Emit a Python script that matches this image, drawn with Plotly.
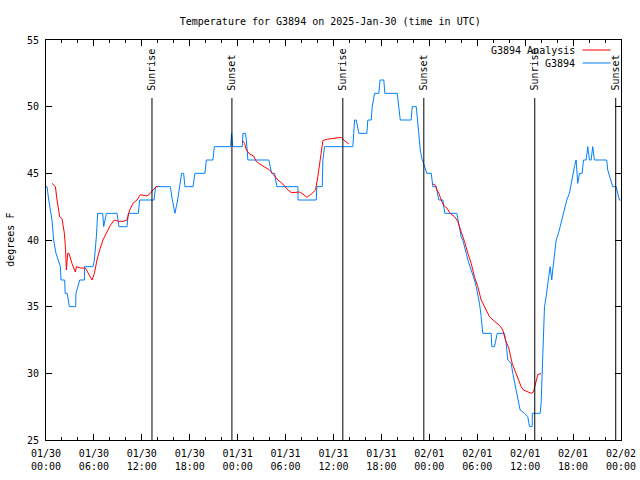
import pandas as pd
import plotly.graph_objects as go

BASE = pd.Timestamp("2025-01-30 00:00")

# Observations G3894 (hours since 01/30 00:00 UTC, deg F)
obs_hours = [0.00, 0.13, 0.34, 0.59, 0.75, 0.96, 1.25, 1.53, 1.80, 1.88, 2.34, 2.40, 2.65, 2.93, 3.72, 3.75,
             4.01, 4.22, 4.81, 4.82, 5.88, 6.06, 6.31, 6.47, 7.10, 7.22, 7.56, 8.89, 9.14, 10.14, 10.31, 11.56,
             11.73, 13.52, 13.73, 15.57, 15.82, 16.15, 16.48, 16.73, 16.98, 17.23, 17.40, 18.40, 18.65, 19.90,
             20.08, 20.90, 21.08, 23.12, 23.24, 23.37, 24.58, 24.66, 24.99, 25.16, 25.28, 27.91, 28.25, 28.62,
             28.91, 31.54, 31.56, 33.84, 33.92, 34.59, 34.67, 34.88, 38.42, 38.64, 38.85, 39.17, 40.18, 40.30,
             40.73, 40.85, 41.14, 41.68, 41.83, 42.30, 42.43, 43.98, 44.14, 44.36, 45.73, 45.86, 46.36, 46.48,
             46.68, 46.86, 47.06, 47.31, 47.61, 47.68, 48.24, 48.44, 48.86, 49.19, 49.69, 49.94, 51.44, 51.61,
             51.78, 51.99, 52.19, 52.44, 52.62, 52.82, 53.12, 53.44, 53.65, 53.87, 54.07, 54.28, 54.49, 54.69,
             55.74, 55.82, 56.16, 56.50, 57.41, 57.62, 57.82, 58.25, 58.45, 58.79, 59.07, 59.37, 59.91, 60.33,
             60.54, 60.88, 60.89, 61.88, 62.00, 62.20, 62.33, 62.42, 62.63, 62.83, 62.95, 63.13, 63.33, 63.45,
             63.67, 63.88, 64.17, 64.38, 64.58, 64.79, 65.01, 65.21, 65.54, 65.76, 65.96, 66.17, 66.38, 66.58,
             66.80, 67.13, 67.30, 67.63, 67.84, 68.05, 68.26, 68.46, 68.67, 70.21, 70.34, 70.55, 70.96, 71.39,
             71.59, 71.80, 71.96]
obs_temps = [44, 44, 43, 42, 41.5, 40, 39, 38.5, 38, 37, 37, 36, 36, 35, 35, 36,
             36.5, 37, 37, 38, 38, 38.5, 40.25, 42, 42, 41, 42, 42, 41, 41, 42, 42,
             43, 43, 44, 44, 43, 42, 43, 44, 45, 45, 44, 44, 45, 45,
             46, 46, 47, 47, 48, 47, 47, 48, 48, 47, 46, 46, 45, 45,
             44, 44, 43, 43, 44, 44, 46, 47, 47, 49, 49, 48, 48, 49,
             49, 50, 51, 51, 52, 52, 51, 51, 50, 49, 49, 50, 50, 49,
             48, 46.75, 46.1, 45.7, 45.25, 45, 45, 44, 44, 43, 43, 42, 42, 41.5,
             41, 40.25, 40, 39.5, 39, 38.5, 38, 37.5, 37, 36.5, 36, 35.25, 34.25, 33,
             33, 32, 32, 33, 33, 32.25, 31, 30.75, 30, 29, 28, 27.25, 27, 26.75,
             26, 26, 27, 27, 27.75, 31, 33, 35, 35.75, 36.5, 37.25, 38, 37, 37.75,
             39, 40, 40.5, 41, 41.5, 42, 42.5, 43, 43.5, 44.25, 45, 45.5, 46, 44.25,
             45, 45, 46, 46, 47, 46, 46, 47, 46, 46, 45.25, 44.75, 44, 44,
             43.5, 43, 43]

# Analysis G3894 (None = gap)
ana_hours = [0.75, 1.18, 1.38, 1.71, 2.00, 2.30, 2.43, 2.50, 2.55, 2.72, 2.88, 3.25, 3.55, 3.68, 3.80, 4.31,
             4.93, 5.34, 5.76, 6.06, 6.38, 6.72, 7.13, 7.63, 8.06, 8.56, 9.10, 9.72, 10.14, 10.48, 10.89,
             11.39, 11.81, 12.64, 13.07, 13.39, 13.82, 14.02, None,
             24.58, 24.87, 25.08, 25.49, 25.99, 26.33, 26.75, 27.37, 28.00, 28.50, 29.04, 29.66, 30.29, 30.71,
             31.34, 31.75, 32.17, 32.67, 33.22, 33.75, 34.04, 34.34, 34.59, 34.67, 35.09, 35.72, 36.55, 36.97,
             37.38, 37.80, 37.92, None,
             48.44, 48.77, 48.94, 49.19, 49.49, 49.77, 50.19, 50.61, 51.15, 51.56, 51.99, 52.40, 52.82, 53.24,
             53.65, 54.07, 54.49, 55.12, 55.53, 56.16, 56.79, 57.20, 57.53, 57.95, 58.37, 58.79, 59.07, 59.50,
             59.79, 60.33, 60.75, 61.04, 61.29, 61.58, 62.00]
ana_temps = [44.25, 44, 43, 41.75, 41.6, 40.5, 39.5, 38.5, 37.75, 39, 39, 38.25, 37.75, 37.6, 38, 37.9,
             37.9, 37.5, 37, 37.5, 38.5, 39.25, 40, 40.6, 41.1, 41.5, 41.4, 41.4, 41.5, 42.25, 42.75,
             43, 43.4, 43.3, 43.5, 43.75, 44, 44, None,
             47.45, 47.25, 46.75, 46.45, 46.3, 45.9, 45.7, 45.5, 45.25, 44.9, 44.5, 44.2, 43.75, 43.55,
             43.6, 43.6, 43.45, 43.2, 43.45, 43.75, 44.75, 46, 47, 47.45, 47.55, 47.6, 47.7, 47.7,
             47.45, 47.2, 47.2, None,
             44.2, 44.1, 43.75, 43.5, 43, 42.6, 42.4, 42, 41.75, 41.4, 40.6, 39.9, 39, 38.25,
             37.25, 36.5, 35.5, 34.75, 34.25, 33.9, 33.6, 33.25, 32.5, 31.9, 30.75, 30.1, 29.6, 29,
             28.75, 28.6, 28.5, 28.6, 29.25, 29.9, 30]

# Sun events (hours since 01/30 00:00 UTC)
sun_hours = [13.27, 23.28, 37.17, 47.31, 61.20, 71.34]
sun_labels = ["Sunrise", "Sunset", "Sunrise", "Sunset", "Sunrise", "Sunset"]

y_ticks = [25, 30, 35, 40, 45, 50, 55]


def to_time(h):
    return None if h is None else BASE + pd.to_timedelta(h, unit="h")


FONT = "DejaVu Sans Mono"
RED = "#ff0000"
BLUE = "#0080ff"

fig = go.Figure()
fig.add_trace(go.Scatter(x=[to_time(h) for h in obs_hours], y=obs_temps, mode="lines",
                         line=dict(color=BLUE, width=1), name="G3894", showlegend=False))
fig.add_trace(go.Scatter(x=[to_time(h) for h in ana_hours], y=ana_temps, mode="lines",
                         line=dict(color=RED, width=1), name="G3894 Analysis", showlegend=False,
                         connectgaps=False))

for h, lab in zip(sun_hours, sun_labels):
    t = to_time(h)
    fig.add_shape(type="line", xref="x", yref="paper", x0=t, x1=t, y0=0, y1=0.855,
                  line=dict(color="black", width=1))
    fig.add_annotation(x=t, xref="x", y=0.868, yref="paper", text=lab, textangle=-90,
                       showarrow=False, xanchor="center", yanchor="bottom",
                       font=dict(family=FONT, size=10, color="black"))

# Manual gnuplot-style legend (text right-aligned, line sample to the right)
legend_items = [("G3894 Analysis", RED), ("G3894", BLUE)]
for i, (name, col) in enumerate(legend_items):
    yy = 0.975 - i * 0.0325
    fig.add_annotation(x=0.924, xref="paper", y=yy, yref="paper", text=name, showarrow=False,
                       xanchor="right", yanchor="middle", font=dict(family=FONT, size=10, color="black"))
    fig.add_shape(type="line", xref="paper", yref="paper", x0=0.933, x1=0.982, y0=yy, y1=yy,
                  line=dict(color=col, width=1))

# y-axis title
fig.add_annotation(x=-0.063, xref="paper", y=0.5, yref="paper", text="degrees F", textangle=-90,
                   showarrow=False, xanchor="center", yanchor="middle",
                   font=dict(family=FONT, size=10, color="black"))

fig.update_layout(
    width=640, height=480,
    margin=dict(l=46, r=19, t=40, b=40),
    paper_bgcolor="white", plot_bgcolor="white",
    font=dict(family=FONT, size=10, color="black"),
    title=dict(text="Temperature for G3894 on 2025-Jan-30 (time in UTC)", x=0.516, xanchor="center",
               y=0.956, yanchor="middle", font=dict(family=FONT, size=10)),
    showlegend=False,
)
fig.update_xaxes(
    type="date", range=[BASE, BASE + pd.Timedelta(hours=72)], automargin=False,
    tick0=BASE, dtick=6 * 3600 * 1000, tickformat="%m/%d<br>%H:%M",
    ticks="inside", ticklen=6, tickcolor="black", tickwidth=1, ticklabelstandoff=4,
    minor=dict(dtick=2 * 3600 * 1000, ticks="inside", ticklen=3, tickcolor="black", showgrid=False),
    showline=True, linecolor="black", linewidth=1, mirror="allticks",
    showgrid=False, zeroline=False, tickfont=dict(family=FONT, size=10),
)
fig.update_yaxes(
    range=[25, 55], tickvals=y_ticks, ticks="inside", ticklen=6, tickcolor="black", automargin=False,
    ticklabelstandoff=4,
    showline=True, linecolor="black", linewidth=1, mirror="allticks",
    showgrid=False, zeroline=False, tickfont=dict(family=FONT, size=10),
)

fig.write_html("out.html", config={"displayModeBar": False},
               post_script="document.body.style.margin='0';")
